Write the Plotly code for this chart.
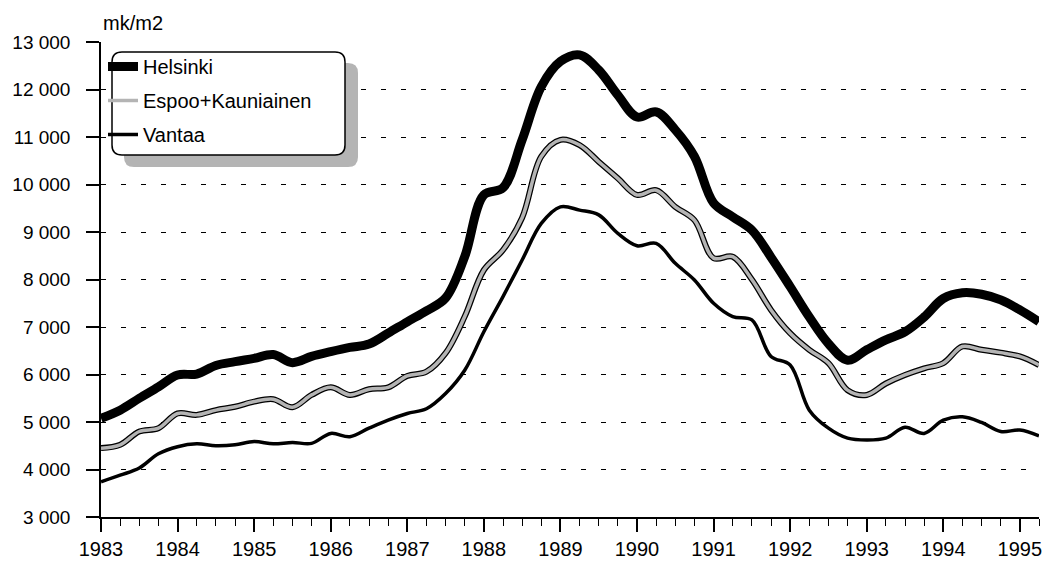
import plotly.graph_objects as go

# ---- data (quarterly, mk/m2) ----
years = [1983 + 0.25 * i for i in range(50)]

helsinki = [5080, 5250, 5500, 5740, 5990, 6010, 6190, 6270, 6340, 6420,
            6250, 6380, 6480, 6570, 6640, 6870, 7110, 7340, 7610, 8480,
            9780, 9930, 10940, 12060, 12590, 12730, 12410, 11880, 11420, 11530,
            11150, 10590, 9610, 9320, 9040, 8470, 7850, 7210, 6650, 6300,
            6520, 6730, 6900, 7210, 7600, 7720, 7690, 7570, 7360, 7110]

espoo = [4450, 4520, 4800, 4870, 5180, 5150, 5250, 5320, 5430, 5480,
         5310, 5570, 5730, 5570, 5690, 5730, 5970, 6060, 6450, 7220,
         8200, 8620, 9300, 10590, 10940, 10830, 10480, 10130, 9780, 9880,
         9530, 9250, 8450, 8480, 8000, 7360, 6870, 6520, 6240, 5670,
         5570, 5810, 5990, 6130, 6240, 6590, 6520, 6460, 6380, 6200]

vantaa = [3740, 3880, 4030, 4330, 4480, 4540, 4500, 4520, 4590, 4540,
          4570, 4550, 4760, 4690, 4870, 5040, 5180, 5280, 5600, 6090,
          6900, 7640, 8410, 9180, 9530, 9460, 9360, 8970, 8710, 8760,
          8340, 7990, 7500, 7220, 7150, 6380, 6200, 5250, 4870, 4660,
          4620, 4660, 4890, 4760, 5040, 5110, 4990, 4800, 4830, 4710]

year_ticks = list(range(1983, 1996))
y_ticks = list(range(3000, 14000, 1000))
y_tick_text = [f"{v // 1000} {v % 1000:03d}" for v in y_ticks]

FONT = "Liberation Sans, Arial, sans-serif"

FIG_W, FIG_H = 1044, 565
L, R, T, B = 101, 1039, 42, 517
W, H = R - L, B - T


def px(x):
    return (x - L) / W


def py(y):
    return (B - y) / H


def rounded_rect(x0, y0, x1, y1, r):
    pts = [
        f"M {px(x0 + r)},{py(y0)}",
        f"L {px(x1 - r)},{py(y0)}",
        f"Q {px(x1)},{py(y0)} {px(x1)},{py(y0 + r)}",
        f"L {px(x1)},{py(y1 - r)}",
        f"Q {px(x1)},{py(y1)} {px(x1 - r)},{py(y1)}",
        f"L {px(x0 + r)},{py(y1)}",
        f"Q {px(x0)},{py(y1)} {px(x0)},{py(y1 - r)}",
        f"L {px(x0)},{py(y0 + r)}",
        f"Q {px(x0)},{py(y0)} {px(x0 + r)},{py(y0)}",
        "Z",
    ]
    return " ".join(pts)


fig = go.Figure()

fig.add_trace(go.Scatter(
    x=years, y=helsinki, name="Helsinki", mode="lines",
    line=dict(color="black", width=9, shape="spline", smoothing=1.0),
    legendgroup="h",
))
fig.add_trace(go.Scatter(
    x=years, y=espoo, name="Espoo+Kauniainen outline", mode="lines",
    line=dict(color="black", width=6, shape="spline", smoothing=1.0),
    showlegend=False, legendgroup="e", hoverinfo="skip",
))
fig.add_trace(go.Scatter(
    x=years, y=espoo, name="Espoo+Kauniainen", mode="lines",
    line=dict(color="#b4b4b4", width=3.5, shape="spline", smoothing=1.0),
    legendgroup="e",
))
fig.add_trace(go.Scatter(
    x=years, y=vantaa, name="Vantaa", mode="lines",
    line=dict(color="black", width=3.5, shape="spline", smoothing=1.0),
    legendgroup="v",
))

shapes = [
    dict(type="path", xref="paper", yref="paper", layer="above",
         path=rounded_rect(124, 63, 358, 167, 10),
         fillcolor="#b4b4b4", line=dict(width=0)),
    dict(type="path", xref="paper", yref="paper", layer="above",
         path=rounded_rect(112, 52, 345, 155, 10),
         fillcolor="white", line=dict(color="black", width=1.5)),
]

fig.update_layout(
    width=FIG_W, height=FIG_H,
    margin=dict(l=L, r=FIG_W - R, t=T, b=FIG_H - B, autoexpand=False),
    paper_bgcolor="white", plot_bgcolor="white",
    font=dict(family=FONT, color="black"),
    showlegend=True,
    legend=dict(
        x=px(103), y=py(47), xanchor="left", yanchor="top",
        bgcolor="rgba(0,0,0,0)", borderwidth=0,
        font=dict(family=FONT, size=20, color="black"),
        tracegroupgap=5, itemwidth=30,
    ),
    shapes=shapes,
    annotations=[dict(
        text="mk/m2", xref="paper", yref="paper",
        x=px(101), y=py(23), xanchor="left", yanchor="middle",
        showarrow=False, font=dict(family=FONT, size=20, color="black"),
    )],
    xaxis=dict(
        range=[1983, 1995.25],
        tickmode="array", tickvals=year_ticks, ticktext=[str(y) for y in year_ticks],
        ticks="outside", ticklen=13, tickwidth=1.5, tickcolor="black",
        showline=True, linecolor="black", linewidth=1.5,
        showgrid=False, zeroline=False, automargin=False,
        tickfont=dict(family=FONT, size=20, color="black"),
        minor=dict(dtick=0.25, tick0=1983, ticks="outside", ticklen=7,
                   tickwidth=1, tickcolor="black", showgrid=False),
    ),
    yaxis=dict(
        range=[3000, 13000],
        tickmode="array", tickvals=y_ticks, ticktext=y_tick_text,
        ticks="outside", ticklen=13, tickwidth=1.5, tickcolor="black",
        ticklabelstandoff=12,
        showline=True, linecolor="black", linewidth=1.5,
        showgrid=True, gridcolor="black", gridwidth=1.2, griddash="5px,15px",
        zeroline=False, automargin=False,
        tickfont=dict(family=FONT, size=19, color="black"),
    ),
    yaxis2=dict(
        range=[3000, 13000], overlaying="y", side="left", anchor="x",
        tickmode="array", tickvals=y_ticks, showticklabels=False,
        ticks="inside", ticklen=5, tickwidth=1.5, tickcolor="black",
        showline=False, showgrid=False, zeroline=False, automargin=False,
    ),
)

fig.write_html(
    "out.html",
    config={"displayModeBar": False},
    post_script="document.body.style.margin='0';document.body.style.overflow='hidden';",
)
